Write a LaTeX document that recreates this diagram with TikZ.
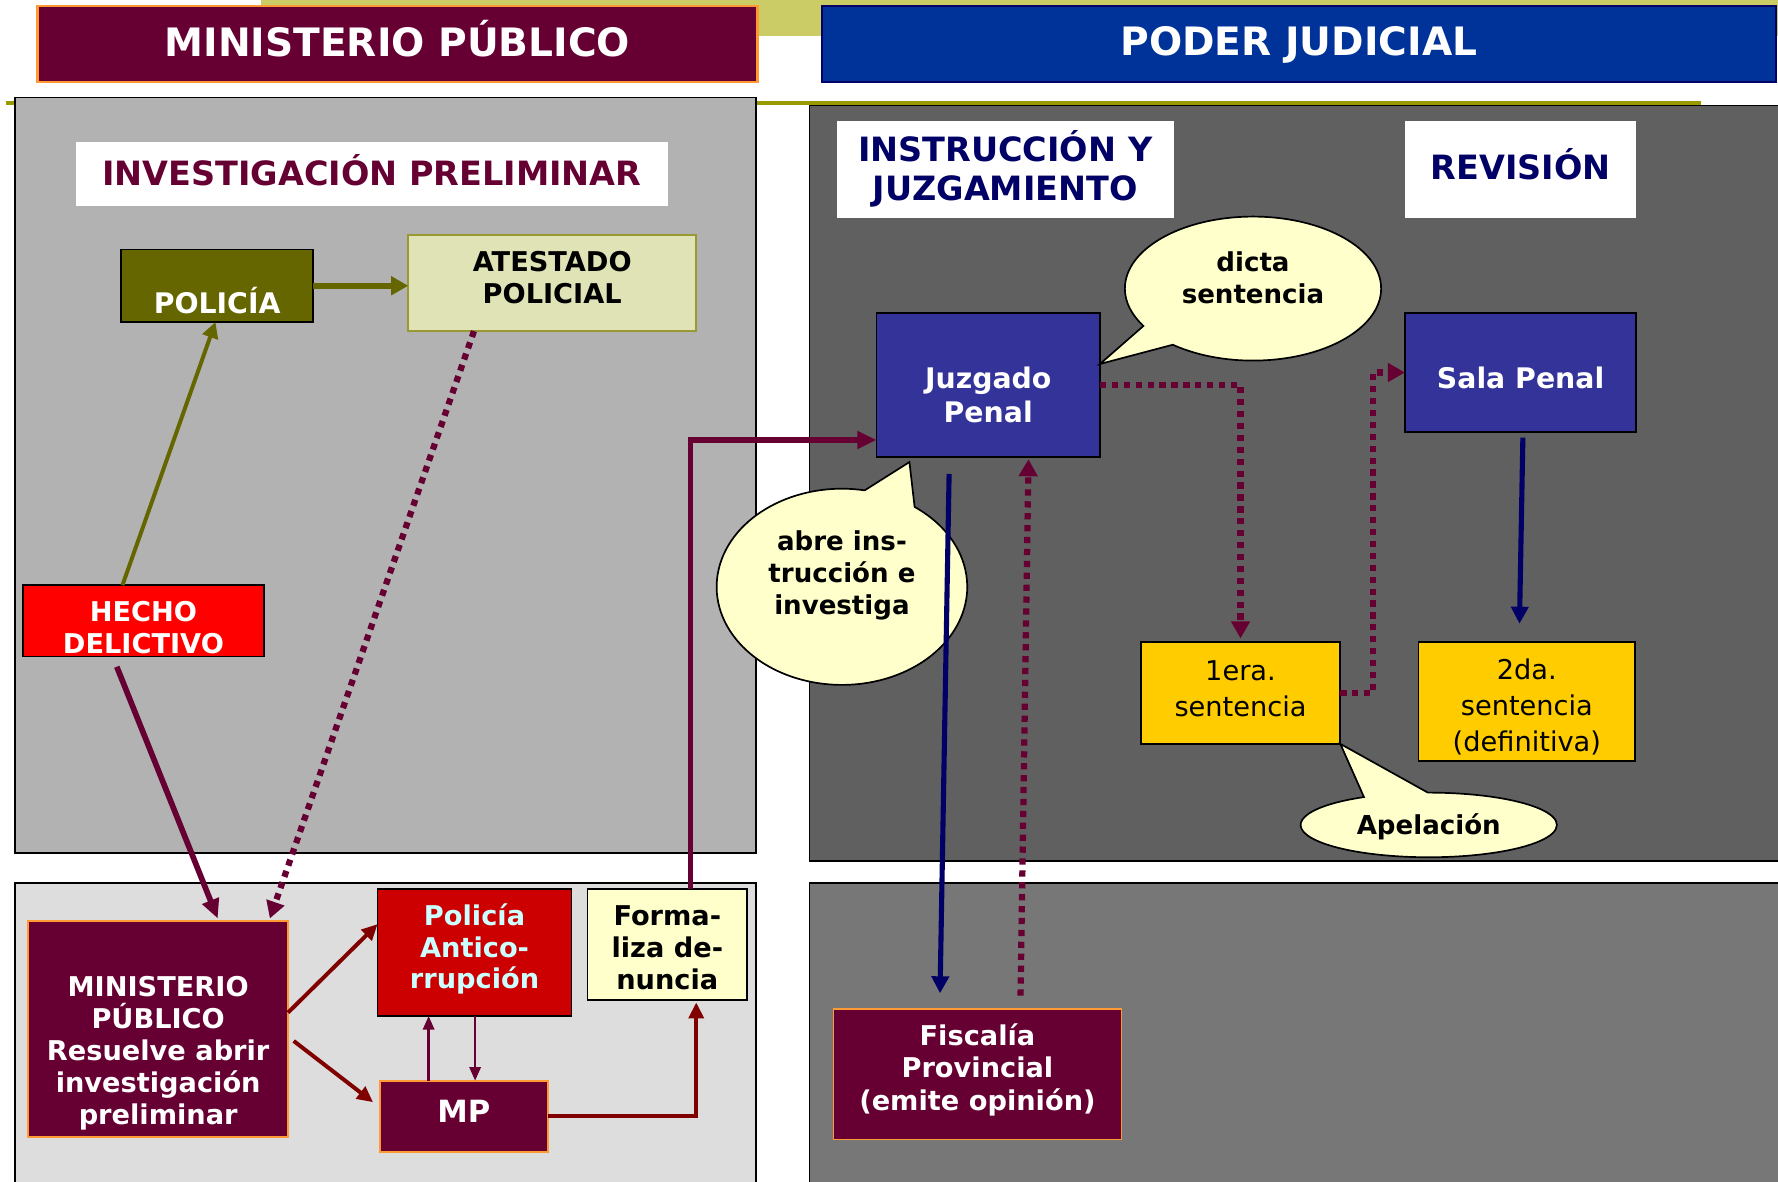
\documentclass[tikz,border=0pt]{standalone}
\usepackage{fontspec}
\setmainfont{DejaVu Sans}
\usetikzlibrary{arrows.meta,shapes.callouts,calc}
\definecolor{maroon}{HTML}{660033}
\definecolor{orng}{HTML}{FF9933}
\definecolor{pjblue}{HTML}{003399}
\definecolor{navy}{HTML}{000066}
\definecolor{khaki}{HTML}{CCCC66}
\definecolor{oliveline}{HTML}{999900}
\definecolor{panelA}{HTML}{B2B2B2}
\definecolor{panelB}{HTML}{DDDDDD}
\definecolor{panelC}{HTML}{606060}
\definecolor{panelD}{HTML}{777777}
\definecolor{polgreen}{HTML}{666600}
\definecolor{atest}{HTML}{DFE3B5}
\definecolor{atestb}{HTML}{999933}
\definecolor{antired}{HTML}{CC0000}
\definecolor{cyanl}{HTML}{CCFFFF}
\definecolor{cream}{HTML}{FFFFCC}
\definecolor{juzblue}{HTML}{333399}
\definecolor{gold}{HTML}{FFCC00}
\definecolor{darkred}{HTML}{800000}
\tikzset{
  hdr/.style={inner sep=0pt, line width=2pt},
  hdrtxt/.style={text=white, inner sep=0pt, font=\bfseries\fontsize{34.5}{40}\selectfont},
  ttl/.style={fill=white, inner sep=0pt},
  ttltxt/.style={align=center, inner sep=0pt, font=\bfseries\fontsize{29.5}{34}\selectfont},
  bx/.style 2 args={minimum width=#1, minimum height=#2, inner sep=0pt, outer sep=0pt, line width=1.5pt, draw=black},
  btxt/.style={align=center, inner sep=0pt, font=\bfseries\fontsize{24}{28}\selectfont},
  ntxt/.style={align=center, inner sep=0pt, font=\fontsize{24}{31.5}\selectfont, text=black},
  bubble/.style={ellipse callout, fill=cream, draw=black, line width=1.5pt, inner sep=0pt, outer sep=0pt},
  ctxt/.style={align=center, inner sep=0pt, font=\bfseries\fontsize{23}{28.5}\selectfont, text=black},
  oliv/.style={draw=polgreen, line width=3.5pt, -{Triangle[length=14pt,width=14pt]}},
  mthick/.style={draw=maroon, line width=5pt, -{Triangle[length=17pt,width=15pt]}},
  mdot/.style={draw=maroon, line width=5.5pt, dash pattern=on 5.5pt off 5pt, -{Triangle[length=15pt,width=16pt]}},
  dred/.style={draw=darkred, line width=3.5pt, -{Triangle[length=14pt,width=13pt]}},
  mthin/.style={draw=maroon, line width=2pt, -{Triangle[length=12pt,width=10pt]}},
  nav/.style={draw=navy, line width=4.5pt, -{Triangle[length=15pt,width=15pt]}},
}
\begin{document}
\begin{tikzpicture}[x=1pt,y=-1pt]
\useasboundingbox (0,0) rectangle (1568,1042);
\clip (0,0) rectangle (1568,1042);
\fill[white] (0,0) rectangle (1568,1042);
% background bands
\fill[khaki] (230,0) rectangle (1568,32);
\draw[oliveline, line width=3pt] (5,91) -- (1500,91);
% panels
\draw[fill=panelA, line width=1.5pt] (13,86) rectangle (667,752);
\draw[fill=panelB, line width=1.5pt] (13,779) rectangle (667,1060);
\draw[fill=panelC, line width=1.5pt] (714,93) rectangle (1590,759);
\draw[fill=panelD, line width=1.5pt] (714,779) rectangle (1590,1060);
% headers
\node[hdr, fill=maroon, draw=orng, minimum width=635pt, minimum height=67pt, label={[hdrtxt, yshift=4pt]center:{MINISTERIO PÚBLICO}}] (hmp) at (350.5,38.5) {};
\node[hdr, fill=pjblue, draw=navy, minimum width=841pt, minimum height=67pt, label={[hdrtxt, yshift=-1.5pt]center:{PODER JUDICIAL}}] (hpj) at (1145.5,38.5) {};
% titles
\node[ttl, minimum width=522pt, minimum height=57pt, label={[ttltxt, text=maroon, yshift=3.5pt]center:{INVESTIGACIÓN PRELIMINAR}}] (tinv) at (328,153.5) {};
\node[ttl, minimum width=297pt, minimum height=85pt, label={[ttltxt, text=navy, yshift=0.5pt]center:{INSTRUCCIÓN Y\\JUZGAMIENTO}}] (tins) at (886.5,149.5) {};
\node[ttl, minimum width=204pt, minimum height=85pt, label={[ttltxt, text=navy, yshift=5pt]center:{REVISIÓN}}] (trev) at (1341,149.5) {};
% left boxes
\node[bx={169pt}{64pt}, fill=polgreen, label={[btxt, text=white, yshift=-13pt, font=\bfseries\fontsize{25}{28}\selectfont]center:{POLICÍA}}] (policia) at (191.5,252) {};
\node[bx={254pt}{85pt}, fill=atest, draw=atestb, label={[btxt, text=black, yshift=4.5pt]center:{ATESTADO\\POLICIAL}}] (atestado) at (487,249.5) {};
\node[bx={213pt}{63pt}, fill=red, label={[btxt, text=white, yshift=-6pt]center:{HECHO\\DELICTIVO}}] (hecho) at (126.5,547.5) {};
\node[bx={229pt}{191pt}, fill=maroon, draw=orng, label={[btxt, text=white, yshift=-21.5pt, font=\bfseries\fontsize{24}{28.3}\selectfont]center:{MINISTERIO\\PÚBLICO\\Resuelve abrir\\investigación\\preliminar}}] (mpbig) at (139.5,907.5) {};
\node[bx={171pt}{112pt}, fill=antired, label={[btxt, text=cyanl, yshift=3pt]center:{Policía\\Antico-\\rrupción}}] (anti) at (418.5,840) {};
\node[bx={141pt}{98pt}, fill=cream, label={[btxt, text=black, yshift=-3pt]center:{Forma-\\liza de-\\nuncia}}] (forma) at (588.5,833) {};
\node[bx={148pt}{63pt}, fill=maroon, draw=orng, label={[btxt, text=white, yshift=4.5pt, font=\bfseries\fontsize{27}{32}\selectfont]center:{MP}}] (mpsm) at (409,984.5) {};
% right boxes
\node[bx={197pt}{127pt}, fill=juzblue, label={[btxt, text=white, yshift=-8.5pt, font=\bfseries\fontsize{25}{30}\selectfont]center:{Juzgado\\Penal}}] (juzgado) at (871.5,339.5) {};
\node[bx={204pt}{105pt}, fill=juzblue, label={[btxt, text=white, yshift=-4.5pt, font=\bfseries\fontsize{25}{30}\selectfont]center:{Sala Penal}}] (sala) at (1341,328.5) {};
\node[bx={176pt}{90pt}, fill=gold, label={[ntxt, yshift=3.5pt]center:{1era.\\sentencia}}] (s1) at (1094,611) {};
\node[bx={191pt}{105pt}, fill=gold, label={[ntxt, yshift=-5pt]center:{2da.\\sentencia\\(definitiva)}}] (s2) at (1346.5,618.5) {};
\node[bx={254pt}{115pt}, fill=maroon, draw=orng, label={[btxt, text=white, yshift=4pt, font=\bfseries\fontsize{24}{28.5}\selectfont]center:{Fiscalía\\Provincial\\(emite opinión)}}] (fisc) at (862,947.5) {};
% callouts
\node[bubble, minimum width=226pt, minimum height=127pt, callout pointer arc=20, callout absolute pointer={([yshift=18.5pt]juzgado.east)}, label={[ctxt, yshift=9.5pt]center:{dicta\\sentencia}}] (dicta) at (1105,254.5) {};
\node[bubble, minimum width=221pt, minimum height=173pt, callout pointer arc=25, callout absolute pointer={([xshift=-69.5pt,yshift=-4.5pt]juzgado.south)}, label={[ctxt, yshift=10pt]center:{abre ins-\\trucción e\\investiga}}] (abre) at (742.5,517.5) {};
\node[bubble, minimum width=226pt, minimum height=57pt, callout pointer arc=30, callout absolute pointer={(s1.south east)}, label={[ctxt, yshift=-1.5pt]center:{Apelación}}] (apel) at (1260,727.5) {};
% connectors
\draw[oliv] ([xshift=-18.5pt]hecho.north) -- ([xshift=-1.5pt]policia.south);
\draw[oliv, line width=5pt, -{Triangle[length=15pt,width=16pt]}] (policia.east) -- (policia.east -| atestado.west);
\draw[mdot] ([xshift=-69pt]atestado.south) -- ([xshift=98.5pt,yshift=2pt]mpbig.north);
\draw[mthick] ([xshift=-23.5pt,yshift=-9pt]hecho.south) -- ([xshift=52.5pt,yshift=2pt]mpbig.north);
\draw[dred] ([yshift=14.5pt]mpbig.east) -- ([yshift=25pt]anti.west);
\draw[dred] ([xshift=5pt,yshift=-10.5pt]mpbig.east) -- ([xshift=-6pt,yshift=12.5pt]mpsm.west);
\draw[mthin] ([xshift=-31pt]mpsm.north) -- ([xshift=-31pt]mpsm.north |- anti.south);
\draw[mthin] ([xshift=0.5pt]anti.south) -- ([xshift=0.5pt]anti.south |- mpsm.north);
\draw[dred] (mpsm.east) -| ([xshift=25.5pt,yshift=-2pt]forma.south);
\draw[mthick] ([xshift=20.5pt]forma.north) |- ([yshift=-48.5pt]juzgado.west);
\draw[nav] ([xshift=-34.5pt,yshift=-15pt]juzgado.south) -- ([xshift=-33pt,yshift=14pt]fisc.north);
\draw[mdot] ([xshift=38pt,yshift=12pt]fisc.north) -- ([xshift=35.5pt,yshift=-2pt]juzgado.south);
\draw[mdot] (juzgado.east) -| ([yshift=3pt]s1.north);
\draw[mdot] (s1.east) -- ++(29,0) |- (sala.west);
\draw[nav] ([xshift=2pt,yshift=-5pt]sala.south) -- ([xshift=-6.5pt,yshift=16pt]s2.north);
\end{tikzpicture}
\end{document}
